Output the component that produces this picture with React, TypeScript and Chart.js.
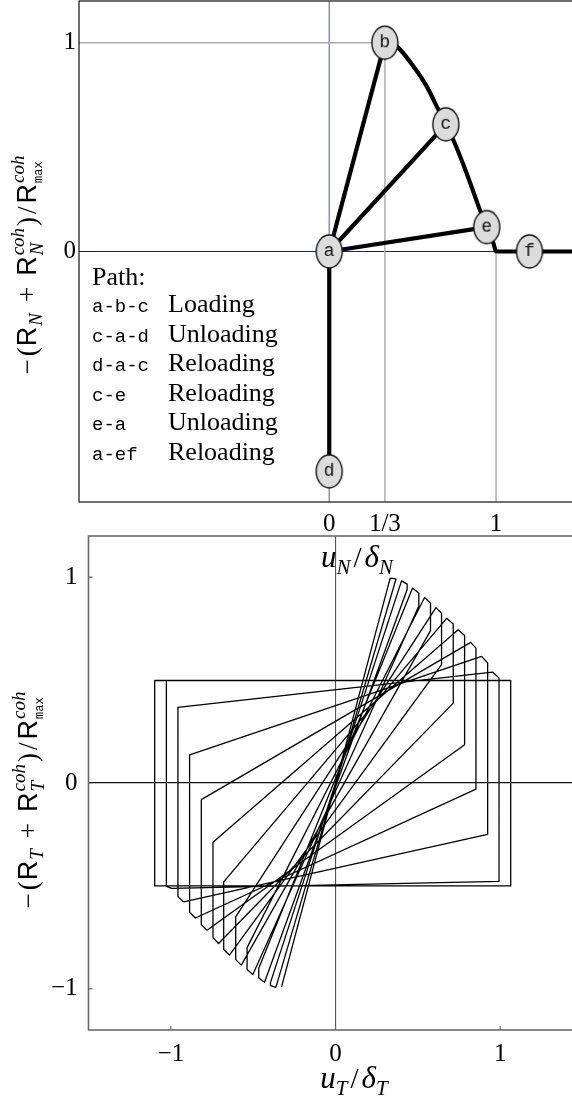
import React, { useEffect, useRef } from 'react';
import { Chart, registerables } from 'chart.js';
Chart.register(...registerables);

// ---------------- Top chart (normal traction) data ----------------
const nodeLabels = ['a', 'b', 'c', 'd', 'e', 'f'];
const nodeU = [0, 1 / 3, 0.699, 0, 0.944, 1.2];
const nodeR = [0, 1, 0.609, -1.053, 0.117, 0];

const softeningU = [0.333, 0.405, 0.505, 0.585, 0.645, 0.699, 0.744, 0.824, 0.904, 0.944, 0.984, 1.0, 1.5];
const softeningR = [1.0, 0.982, 0.886, 0.79, 0.694, 0.609, 0.534, 0.374, 0.197, 0.117, 0.04, 0.0, 0.0];

const secantTargets = ['b', 'c', 'e', 'd'];

const pathCodes = ['a-b-c', 'c-a-d', 'd-a-c', 'c-e', 'e-a', 'a-ef'];
const pathDescs = ['Loading', 'Unloading', 'Reloading', 'Reloading', 'Unloading', 'Reloading'];

const guideOneU = [-1.5, 1 / 3];
const guideOneR = [1, 1];
const guideThirdU = [1 / 3, 1 / 3];
const guideThirdR = [1, -1.2];
const guideUnitU = [1, 1];
const guideUnitR = [0, -1.2];
const axisVU = [0, 0];
const axisVR = [-1.2, 1.2];
const axisHU = [-1.5, 1.5];
const axisHR = [0, 0];

const topXTicks = [0, 1 / 3, 1];
const topXLabels = ['0', '1/3', '1'];
const topYTicks = [0, 1];
const topYLabels = ['0', '1'];

// ---------------- Bottom chart (tangential traction) data ----------------
const pathStart = [-0.328, -0.992];
const rightU = [0.367, 0.435, 0.506, 0.577, 0.644, 0.715, 0.784, 0.853, 0.924, 0.993, 1.064];
const rightPeakU = [0.332, 0.401, 0.468, 0.541, 0.61, 0.675, 0.745, 0.821, 0.887, 0.954, 1.064];
const rightPeakR = [0.995, 0.982, 0.947, 0.901, 0.852, 0.8, 0.744, 0.683, 0.615, 0.539, 0.498];
const rightTopR = [0.992, 0.966, 0.922, 0.874, 0.825, 0.772, 0.717, 0.655, 0.583, 0.51, 0.498];
const rightBottomR = [0.99, 0.94, 0.86, 0.74, 0.575, 0.388, 0.186, -0.03, -0.25, -0.478, -0.5];
const leftU = [-0.395, -0.466, -0.537, -0.606, -0.679, -0.744, -0.815, -0.886, -0.957, -1.027, -1.098];
const leftPeakU = [-0.362, -0.431, -0.502, -0.572, -0.644, -0.71, -0.78, -0.851, -0.922, -0.995, -1.098];
const leftPeakR = [-0.993, -0.968, -0.93, -0.885, -0.836, -0.78, -0.715, -0.656, -0.578, -0.512, -0.5];
const leftBottomR = [-0.984, -0.947, -0.906, -0.858, -0.809, -0.752, -0.688, -0.628, -0.552, -0.502, -0.5];
const leftTopR = [-0.97, -0.9, -0.8, -0.65, -0.48, -0.288, -0.081, 0.137, 0.367, 0.498, 0.498];
const pathEnd = [1.064, 0.498];

const botXTicks = [-1, 0, 1];
const botXLabels = ['\u22121', '0', '1'];
const botYTicks = [-1, 0, 1];
const botYLabels = ['\u22121', '0', '1'];

// ---------------- fonts / rich text ----------------
const SERIF = '"Liberation Serif", "DejaVu Serif", serif';
const SANS = '"Liberation Sans", "DejaVu Sans", sans-serif';
const MONO = '"Liberation Mono", "DejaVu Sans Mono", monospace';

type Part = { t: string; f: string; dy?: number };
type Seg = (Part | { stack: Part[] }) & { gap?: number };

const big = `27px ${SERIF}`;
const sansR = `27px ${SANS}`;
const itSmall = `italic 19px ${SERIF}`;
const itBig = `italic 31px ${SERIF}`;
const slash = `29px ${SERIF}`;

const yTitleTop: Seg[] = [
  { t: '\u2212', f: big, gap: 3 },
  { t: '(', f: big, gap: 1 },
  { t: 'R', f: sansR, gap: 1 },
  { t: 'N', f: itSmall, dy: 6, gap: 2 },
  { t: '\u2004+\u2004', f: big, gap: 2 },
  { t: 'R', f: sansR, gap: 1 },
  { stack: [{ t: 'coh', f: itSmall, dy: -12 }, { t: 'N', f: itSmall, dy: 7 }], gap: 2 },
  { t: ')', f: big, gap: 3 },
  { t: '/', f: big, gap: 3 },
  { t: 'R', f: sansR, gap: 1 },
  { stack: [{ t: 'coh', f: itSmall, dy: -12 }, { t: 'max', f: `12px ${MONO}`, dy: 6 }] },
];
const yTitleBot: Seg[] = [
  { t: '\u2212', f: big, gap: 3 },
  { t: '(', f: big, gap: 1 },
  { t: 'R', f: sansR, gap: 1 },
  { t: 'T', f: itSmall, dy: 6, gap: 2 },
  { t: '\u2004+\u2004', f: big, gap: 2 },
  { t: 'R', f: sansR, gap: 1 },
  { stack: [{ t: 'coh', f: itSmall, dy: -12 }, { t: 'T', f: itSmall, dy: 7 }], gap: 2 },
  { t: ')', f: big, gap: 3 },
  { t: '/', f: big, gap: 3 },
  { t: 'R', f: sansR, gap: 1 },
  { stack: [{ t: 'coh', f: itSmall, dy: -12 }, { t: 'max', f: `12px ${MONO}`, dy: 6 }] },
];
const xTitleTop: Seg[] = [
  { t: 'u', f: itBig, gap: 0 },
  { t: 'N', f: `italic 21px ${SERIF}`, dy: 7, gap: 3 },
  { t: '/', f: slash, gap: 3 },
  { t: '\u03b4', f: itBig, gap: 0 },
  { t: 'N', f: `italic 21px ${SERIF}`, dy: 7 },
];
const xTitleBot: Seg[] = [
  { t: 'u', f: itBig, gap: 0 },
  { t: 'T', f: `italic 21px ${SERIF}`, dy: 7, gap: 3 },
  { t: '/', f: slash, gap: 3 },
  { t: '\u03b4', f: itBig, gap: 0 },
  { t: 'T', f: `italic 21px ${SERIF}`, dy: 7 },
];

function partsOf(s: Seg): Part[] {
  return 'stack' in s ? s.stack : [s as Part];
}
function segW(ctx: CanvasRenderingContext2D, s: Seg) {
  let w = 0;
  for (const p of partsOf(s)) {
    ctx.font = p.f;
    w = Math.max(w, ctx.measureText(p.t).width);
  }
  return w + (s.gap || 0);
}
function drawRich(ctx: CanvasRenderingContext2D, segs: Seg[], x: number, y: number, rot: number) {
  ctx.save();
  ctx.translate(x, y);
  if (rot) ctx.rotate(rot);
  ctx.fillStyle = '#000';
  ctx.textAlign = 'left';
  ctx.textBaseline = 'alphabetic';
  const total = segs.reduce((a, s) => a + segW(ctx, s), 0);
  let cx = -total / 2;
  for (const s of segs) {
    const w = segW(ctx, s);
    for (const p of partsOf(s)) {
      ctx.font = p.f;
      ctx.fillText(p.t, cx, p.dy || 0);
    }
    cx += w;
  }
  ctx.restore();
}

function makeNode(letter: string): HTMLCanvasElement {
  const c = document.createElement('canvas');
  c.width = 30;
  c.height = 37;
  const g = c.getContext('2d')!;
  g.beginPath();
  g.ellipse(15, 18.5, 13, 16.5, 0, 0, Math.PI * 2);
  g.fillStyle = '#dcdcdc';
  g.fill();
  g.lineWidth = 1.4;
  g.strokeStyle = '#111';
  g.stroke();
  g.fillStyle = '#111';
  g.font = `18px ${MONO}`;
  g.textAlign = 'center';
  g.textBaseline = 'middle';
  g.fillText(letter, 15, 18);
  return c;
}

const pts = (us: number[], rs: number[]) => us.map((u, i) => ({ x: u, y: rs[i] }));

const lineDs = (data: { x: number; y: number }[], color: string, width: number) => ({
  data,
  showLine: true,
  borderColor: color,
  borderWidth: width,
  pointRadius: 0,
  borderJoinStyle: 'round' as const,
  borderCapStyle: 'butt' as const,
  tension: 0,
});

const noPad = (s: any) => {
  s.paddingTop = 0;
  s.paddingBottom = 0;
  s.paddingLeft = 0;
  s.paddingRight = 0;
};

export default function App() {
  const topRef = useRef<HTMLCanvasElement>(null);
  const botRef = useRef<HTMLCanvasElement>(null);

  useEffect(() => {
    // ---------- top chart ----------
    const nodeIdx = (l: string) => nodeLabels.indexOf(l);
    const nodePts = pts(nodeU, nodeR);
    const secants = secantTargets.map((l) => lineDs([nodePts[0], nodePts[nodeIdx(l)]], '#000', 4.2));

    const topDecor = {
      id: 'topDecor',
      afterDatasetsDraw(chart: any) {
        const ctx = chart.ctx as CanvasRenderingContext2D;
        const a = chart.chartArea;
        ctx.save();
        ctx.strokeStyle = '#222';
        ctx.lineWidth = 1.3;
        ctx.strokeRect(a.left, a.top, a.right - a.left, a.bottom - a.top);
        ctx.restore();
      },
      afterDraw(chart: any) {
        const ctx = chart.ctx as CanvasRenderingContext2D;
        const a = chart.chartArea;
        const y0 = chart.scales.y.getPixelForValue(0);
        ctx.save();
        ctx.fillStyle = '#000';
        ctx.textAlign = 'left';
        ctx.textBaseline = 'alphabetic';
        ctx.font = `26px ${SERIF}`;
        ctx.fillText('Path:', a.left + 13, y0 + 33.5);
        pathCodes.forEach((code, i) => {
          const yy = y0 + 60.5 + i * 29.5;
          ctx.font = `19px ${MONO}`;
          ctx.fillText(code, a.left + 13, yy);
          ctx.font = `26px ${SERIF}`;
          ctx.fillText(pathDescs[i], a.left + 89, yy);
        });
        ctx.restore();
        drawRich(ctx, yTitleTop, 36, 265, -Math.PI / 2);
        drawRich(ctx, xTitleTop, 357, 567, 0);
      },
    };

    const softening = {
      ...lineDs(pts(softeningU, softeningR), '#000', 4.2),
      cubicInterpolationMode: 'monotone' as const,
    };

    const topChart = new Chart(topRef.current!, {
      type: 'scatter',
      data: {
        datasets: [
          {
            data: nodePts,
            pointStyle: nodeLabels.map(makeNode) as any,
            pointRadius: 14,
            showLine: false,
          } as any,
          softening,
          ...secants,
          lineDs(pts(guideOneU, guideOneR), '#ababab', 1.4),
          lineDs(pts(guideThirdU, guideThirdR), '#ababab', 1.4),
          lineDs(pts(guideUnitU, guideUnitR), '#ababab', 1.4),
          lineDs(pts(axisVU, axisVR), '#7b7bc2', 1.3),
          lineDs(pts(axisHU, axisHR), '#1e1e72', 1.1),
        ],
      },
      options: {
        responsive: false,
        animation: false,
        events: [],
        layout: { autoPadding: false, padding: { left: 0, top: 1, right: 20.5, bottom: 0 } },
        plugins: { legend: { display: false }, tooltip: { enabled: false } },
        scales: {
          x: {
            type: 'linear',
            min: -1.5,
            max: 1.5,
            afterBuildTicks: (s: any) => {
              s.ticks = topXTicks.map((v) => ({ value: v }));
            },
            afterFit: (s: any) => {
              s.height = 73;
              noPad(s);
            },
            grid: { display: false, drawTicks: false },
            border: { display: false },
            ticks: {
              autoSkip: false,
              maxRotation: 0,
              padding: 7,
              color: '#000',
              font: { family: SERIF, size: 25 },
              callback: (_v: any, i: number) => topXLabels[i],
            },
          },
          y: {
            type: 'linear',
            min: -1.2,
            max: 1.2,
            afterBuildTicks: (s: any) => {
              s.ticks = topYTicks.map((v) => ({ value: v }));
            },
            afterFit: (s: any) => {
              s.width = 79;
              noPad(s);
            },
            grid: { display: false, drawTicks: false },
            border: { display: false },
            ticks: {
              autoSkip: false,
              padding: 3,
              color: '#000',
              font: { family: SERIF, size: 25 },
              callback: (_v: any, i: number) => topYLabels[i],
            },
          },
        },
      },
      plugins: [topDecor],
    } as any);

    // ---------- bottom chart ----------
    const hyst: { x: number; y: number }[] = [{ x: pathStart[0], y: pathStart[1] }];
    for (let k = 0; k < rightU.length; k++) {
      hyst.push({ x: rightPeakU[k], y: rightPeakR[k] });
      hyst.push({ x: rightU[k], y: rightTopR[k] });
      hyst.push({ x: rightU[k], y: rightBottomR[k] });
      hyst.push({ x: leftPeakU[k], y: leftPeakR[k] });
      hyst.push({ x: leftU[k], y: leftBottomR[k] });
      hyst.push({ x: leftU[k], y: leftTopR[k] });
    }
    hyst.push({ x: pathEnd[0], y: pathEnd[1] });

    const botDecor = {
      id: 'botDecor',
      afterDatasetsDraw(chart: any) {
        const ctx = chart.ctx as CanvasRenderingContext2D;
        const a = chart.chartArea;
        const sx = chart.scales.x;
        const sy = chart.scales.y;
        ctx.save();
        ctx.strokeStyle = '#6a6a6a';
        ctx.lineWidth = 1.6;
        ctx.strokeRect(a.left, a.top, a.right - a.left, a.bottom - a.top);
        ctx.lineWidth = 1.2;
        ctx.beginPath();
        botXTicks.forEach((v) => {
          const px = sx.getPixelForValue(v);
          ctx.moveTo(px, a.bottom);
          ctx.lineTo(px, a.bottom - 4);
        });
        botYTicks.forEach((v) => {
          const py = sy.getPixelForValue(v);
          ctx.moveTo(a.left, py);
          ctx.lineTo(a.left + 4, py);
        });
        ctx.stroke();
        ctx.restore();
      },
      afterDraw(chart: any) {
        const ctx = chart.ctx as CanvasRenderingContext2D;
        drawRich(ctx, yTitleBot, 37, 280, -Math.PI / 2);
        drawRich(ctx, xTitleBot, 354, 568, 0);
      },
    };

    const botChart = new Chart(botRef.current!, {
      type: 'scatter',
      data: {
        datasets: [lineDs(hyst, '#000', 1.3)],
      },
      options: {
        responsive: false,
        animation: false,
        events: [],
        layout: { autoPadding: false, padding: { left: 0, top: 16, right: 17.5, bottom: 0 } },
        plugins: { legend: { display: false }, tooltip: { enabled: false } },
        scales: {
          x: {
            type: 'linear',
            min: -1.5,
            max: 1.5,
            afterBuildTicks: (s: any) => {
              s.ticks = botXTicks.map((v) => ({ value: v }));
            },
            afterFit: (s: any) => {
              s.height = 79;
              noPad(s);
            },
            grid: {
              drawTicks: false,
              lineWidth: 1.1,
              color: (c: any) => (c.tick && c.tick.value === 0 ? '#555' : 'rgba(0,0,0,0)'),
            },
            border: { display: false },
            ticks: {
              autoSkip: false,
              maxRotation: 0,
              padding: 9,
              color: '#000',
              font: { family: SERIF, size: 25 },
              callback: (_v: any, i: number) => botXLabels[i],
            },
          },
          y: {
            type: 'linear',
            min: -1.2,
            max: 1.2,
            afterBuildTicks: (s: any) => {
              s.ticks = botYTicks.map((v) => ({ value: v }));
            },
            afterFit: (s: any) => {
              s.width = 88.5;
              noPad(s);
            },
            grid: {
              drawTicks: false,
              lineWidth: 1.2,
              color: (c: any) => (c.tick && c.tick.value === 0 ? '#111' : 'rgba(0,0,0,0)'),
            },
            border: { display: false },
            ticks: {
              autoSkip: false,
              padding: 11,
              color: '#000',
              font: { family: SERIF, size: 25 },
              callback: (_v: any, i: number) => botYLabels[i],
            },
          },
        },
      },
      plugins: [botDecor],
    } as any);

    return () => {
      topChart.destroy();
      botChart.destroy();
    };
  }, []);

  return (
    <div
      style={{
        position: 'absolute',
        left: 0,
        top: 0,
        width: 572,
        height: 1109,
        overflow: 'hidden',
        background: '#fff',
      }}
    >
      <canvas
        ref={botRef}
        width={600}
        height={589}
        style={{ position: 'absolute', left: 0, top: 520, width: 600, height: 589 }}
      />
      <canvas
        ref={topRef}
        width={600}
        height={575}
        style={{ position: 'absolute', left: 0, top: 0, width: 600, height: 575 }}
      />
    </div>
  );
}
